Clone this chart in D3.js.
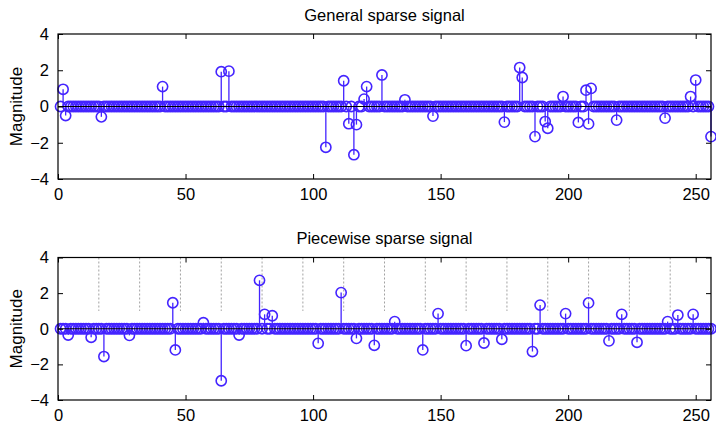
<!DOCTYPE html>
<html><head><meta charset="utf-8">
<script src="https://cdn.jsdelivr.net/npm/d3@7"></script>
<style>body{margin:0;background:#fff}svg{display:block}text{font-family:"Liberation Sans",Arial,Helvetica,sans-serif}</style>
</head><body><svg id="c" width="716" height="423"></svg>
<script>
const N = 256;
const xTicks = [0,50,100,150,200,250];
const yTicks = [-4,-2,0,2,4];
const titles = ["General sparse signal","Piecewise sparse signal"];
const yLabel = "Magnitude";
// top: general sparse signal (index, value)
const topIdx = [2,3,17,41,64,67,105,112,114,116,117,120,121,127,136,147,175,181,182,187,191,192,198,204,207,208,209,219,238,248,250,256];
const topVal = [0.95,-0.5,-0.57,1.1,1.92,1.95,-2.25,1.42,-0.95,-2.66,-1.0,0.41,1.1,1.74,0.37,-0.53,-0.86,2.15,1.6,-1.66,-0.83,-1.2,0.55,-0.88,0.9,-0.96,1.0,-0.75,-0.64,0.55,1.46,-1.66];
// bottom: piecewise sparse signal
const botIdx = [4,13,18,28,45,46,57,64,71,79,81,84,102,111,117,124,132,143,149,160,167,174,186,189,199,208,216,221,227,239,243,249];
const botVal = [-0.35,-0.48,-1.56,-0.37,1.46,-1.19,0.34,-2.92,-0.35,2.72,0.81,0.73,-0.82,2.03,-0.54,-0.93,0.4,-1.19,0.85,-0.95,-0.8,-0.59,-1.28,1.33,0.85,1.45,-0.68,0.81,-0.76,0.4,0.77,0.81];
// block boundaries in the piecewise plot
const blockEdges = [16,32,48,64,80,96,112,128,144,160,176,192,208,224,240];

function signal(idx, val){
  const s = [];
  for (let i=1;i<=N;i++) s.push({i:i, v:0});
  idx.forEach((k,j)=>{ s[k-1].v = val[j]; });
  return s;
}

const svg = d3.select("#c");
const color = "#4424ff";
const panels = [
  {top:34, bottom:179, data:signal(topIdx,topVal), title:titles[0], titleY:21, dashed:false},
  {top:257.5, bottom:400, data:signal(botIdx,botVal), title:titles[1], titleY:244, dashed:true}
];
const L = 58, R = 711;

panels.forEach(p=>{
  const x = d3.scaleLinear().domain([0,N]).range([L,R]);
  const y = d3.scaleLinear().domain([-4,4]).range([p.bottom,p.top]);
  const g = svg.append("g");
  if (p.dashed){
    g.selectAll("line.d").data(blockEdges).enter().append("line")
      .attr("x1",d=>x(d)).attr("x2",d=>x(d)).attr("y1",y(4)).attr("y2",y(1))
      .attr("stroke","#8a8a8a").attr("stroke-width",0.8).attr("stroke-dasharray","2,2");
  }
  // stems
  g.selectAll("line.s").data(p.data.filter(d=>d.v!==0)).enter().append("line")
    .attr("x1",d=>x(d.i)).attr("x2",d=>x(d.i)).attr("y1",y(0)).attr("y2",d=>y(d.v))
    .attr("stroke",color).attr("stroke-width",1.3);
  // markers
  g.selectAll("circle").data(p.data).enter().append("circle")
    .attr("cx",d=>x(d.i)).attr("cy",d=>y(d.v)).attr("r",5.1)
    .attr("fill","none").attr("stroke",color).attr("stroke-width",1.6);
  // baseline
  g.append("line").attr("x1",L).attr("x2",R).attr("y1",y(0)).attr("y2",y(0))
    .attr("stroke","#000").attr("stroke-width",1);
  // box
  g.append("rect").attr("x",L).attr("y",p.top).attr("width",R-L).attr("height",p.bottom-p.top)
    .attr("fill","none").attr("stroke","#000").attr("stroke-width",1.2);
  // axes
  const ax = g.append("g").attr("transform",`translate(0,${p.bottom})`)
    .call(d3.axisBottom(x).tickValues(xTicks).tickSizeInner(-5).tickSizeOuter(0).tickPadding(9));
  const axT = g.append("g").attr("transform",`translate(0,${p.top})`)
    .call(d3.axisTop(x).tickValues(xTicks).tickSizeInner(-5).tickSizeOuter(0).tickFormat(""));
  const ay = g.append("g").attr("transform",`translate(${L},0)`)
    .call(d3.axisLeft(y).tickValues(yTicks).tickSizeInner(-5).tickSizeOuter(0).tickPadding(9));
  const ayR = g.append("g").attr("transform",`translate(${R},0)`)
    .call(d3.axisRight(y).tickValues(yTicks).tickSizeInner(-5).tickSizeOuter(0).tickFormat(""));
  [ax,axT,ay,ayR].forEach(a=>{
    a.select(".domain").remove();
    a.selectAll("line").attr("stroke","#000");
    a.selectAll("text").attr("font-size",16.5).attr("fill","#000")
      .style("font-family",'"Liberation Sans",Arial,sans-serif');
  });
  g.append("text").attr("x",(L+R)/2).attr("y",p.titleY).attr("text-anchor","middle")
    .attr("font-size",16.5).text(p.title);
  g.append("text").attr("transform",`translate(22,${(p.top+p.bottom)/2}) rotate(-90)`)
    .attr("text-anchor","middle").attr("font-size",17).text(yLabel);
});
</script></body></html>
